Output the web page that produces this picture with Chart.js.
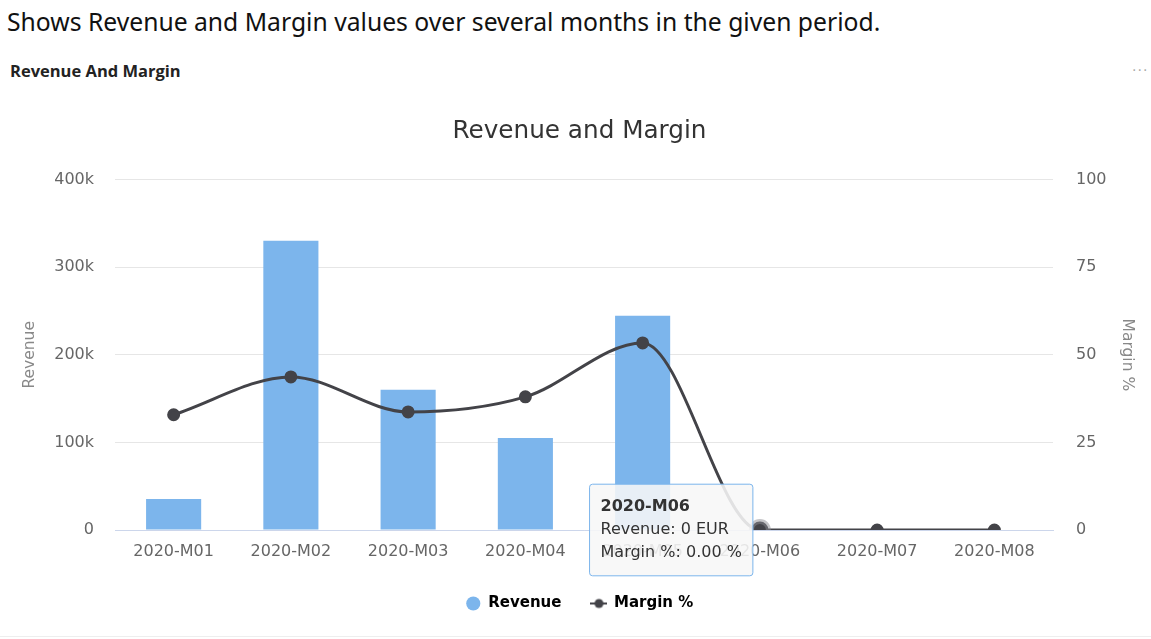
<!DOCTYPE html>
<html>
<head>
<meta charset="utf-8">
<title>Revenue and Margin</title>
<script src="https://cdn.jsdelivr.net/npm/chart.js@4"></script>
<style>
    body { margin: 0; background: #fff; width: 1151px; height: 639px; position: relative; overflow: hidden; }
    #descripcion { position: absolute; left: 7px; top: 5px; font-family: "Noto Sans", sans-serif; font-size: 24.7px; color: #111; white-space: nowrap; }
    #tituloPanel { position: absolute; left: 10px; top: 59px; font-family: "Open Sans", sans-serif; font-weight: bold; font-size: 16.5px; color: #222; }
    #menu { position: absolute; left: 1132px; top: 62px; font-family: "DejaVu Sans", sans-serif; font-size: 14px; color: #aaa; letter-spacing: 1px; }
    #chartContainer { position: absolute; left: 0; top: 95px; width: 1151px; height: 540px; }
    #linea { position: absolute; left: 0; top: 636px; width: 1151px; height: 1px; background: #eee; }
</style>
</head>
<body>
<div id="descripcion">Shows Revenue and Margin values over several months in the given period.</div>
<div id="tituloPanel">Revenue And Margin</div>
<div id="menu">···</div>
<div id="chartContainer"><canvas id="revenueChart"></canvas></div>
<div id="linea"></div>
<script>
const categorias = ['2020-M01', '2020-M02', '2020-M03', '2020-M04', '2020-M05', '2020-M06', '2020-M07', '2020-M08'];
const revenue = [35400, 330300, 160000, 105000, 244600, 0, 0, 0];
const margin = [32.9, 43.7, 33.7, 38.0, 53.4, 0, 0, 0];
const ticksRevenue = [0, 100000, 200000, 300000, 400000];
const ticksMargin = [0, 25, 50, 75, 100];

document.addEventListener('DOMContentLoaded', function() {
    const colorBarra = '#7cb5ec';
    const colorLinea = '#434348';
    const colorTexto = '#666666';
    const fuente = 'DejaVu Sans';

    // icono de leyenda: linea con punto
    function iconoLinea() {
        const c = document.createElement('canvas');
        c.width = 17;
        c.height = 12;
        const g = c.getContext('2d');
        g.strokeStyle = colorLinea;
        g.lineWidth = 2;
        g.beginPath();
        g.moveTo(0, 6);
        g.lineTo(17, 6);
        g.stroke();
        g.fillStyle = colorLinea;
        g.beginPath();
        g.arc(8.5, 6, 4.5, 0, Math.PI * 2);
        g.fill();
        return c;
    }

    Chart.Tooltip.positioners.enPunto = function(items) {
        if (!items.length) return false;
        const item = items.find(i => i.datasetIndex === 1) || items[0];
        return { x: item.element.x, y: item.element.y, xAlign: 'right', yAlign: 'center' };
    };

    const ctx = document.getElementById('revenueChart').getContext('2d');
    const chart = new Chart(ctx, {
        data: {
            labels: categorias,
            datasets: [
                {
                    type: 'bar',
                    label: 'Revenue',
                    data: revenue,
                    backgroundColor: colorBarra,
                    hoverBackgroundColor: colorBarra,
                    yAxisID: 'yRevenue',
                    categoryPercentage: 1,
                    barPercentage: 0.47,
                    order: 2
                },
                {
                    type: 'line',
                    label: 'Margin %',
                    data: margin,
                    borderColor: colorLinea,
                    backgroundColor: colorLinea,
                    borderWidth: 3,
                    pointRadius: 5,
                    pointHoverRadius: 8.5,
                    pointHoverBorderWidth: 5,
                    pointHoverBorderColor: 'rgba(140,140,145,0.5)',
                    pointHoverBackgroundColor: colorLinea,
                    cubicInterpolationMode: 'monotone',
                    yAxisID: 'yMargin',
                    order: 1
                }
            ]
        },
        options: {
            responsive: true,
            maintainAspectRatio: false,
            animation: false,
            events: [],
            layout: { padding: { left: 8, right: 0, top: 0, bottom: 14 } },
            plugins: {
                title: {
                    display: true,
                    text: 'Revenue and Margin',
                    color: '#333333',
                    font: { family: fuente, size: 24.7, weight: 'normal' },
                    padding: { top: 22, bottom: 33 }
                },
                legend: {
                    position: 'bottom',
                    labels: {
                        color: '#333333',
                        font: { family: fuente, size: 15, weight: 'bold' },
                        usePointStyle: true,
                        boxHeight: 10,
                        padding: 30,
                        generateLabels: function(chart) {
                            return [
                                { text: 'Revenue', pointStyle: 'circle', fillStyle: colorBarra, strokeStyle: colorBarra, lineWidth: 0, datasetIndex: 0 },
                                { text: 'Margin %', pointStyle: iconoLinea(), fillStyle: colorLinea, strokeStyle: colorLinea, lineWidth: 0, datasetIndex: 1 }
                            ];
                        }
                    }
                },
                tooltip: {
                    mode: 'index',
                    position: 'enPunto',
                    backgroundColor: 'rgba(247,247,247,0.88)',
                    borderColor: colorBarra,
                    borderWidth: 1,
                    cornerRadius: 3,
                    caretSize: 0,
                    caretPadding: 7,
                    padding: { left: 11, right: 11, top: 13, bottom: 13 },
                    displayColors: false,
                    titleColor: '#333333',
                    bodyColor: '#333333',
                    titleFont: { family: fuente, size: 16, weight: 'bold' },
                    bodyFont: { family: fuente, size: 16 },
                    titleMarginBottom: 4,
                    bodySpacing: 4,
                    callbacks: {
                        label: function(item) {
                            if (item.datasetIndex === 0) {
                                return 'Revenue: ' + item.raw + ' EUR';
                            }
                            return 'Margin %: ' + item.raw.toFixed(2) + ' %';
                        }
                    }
                }
            },
            scales: {
                x: {
                    afterFit: function(axis) {
                        axis.height = 36;
                    },
                    grid: { display: false, drawTicks: false },
                    border: { display: true, color: '#ccd6eb', width: 1 },
                    ticks: {
                        color: colorTexto,
                        font: { family: fuente, size: 16 },
                        padding: 12,
                        maxRotation: 0
                    }
                },
                yRevenue: {
                    position: 'left',
                    min: 0,
                    max: 400000,
                    afterBuildTicks: function(axis) {
                        axis.ticks = ticksRevenue.map(v => ({ value: v }));
                    },
                    afterFit: function(axis) {
                        axis.width = 107;
                    },
                    grid: { color: '#e6e6e6', drawTicks: false },
                    border: { display: false },
                    ticks: {
                        color: colorTexto,
                        font: { family: fuente, size: 16 },
                        padding: 21,
                        callback: function(v) {
                            return v === 0 ? '0' : (v / 1000) + 'k';
                        }
                    },
                    title: {
                        display: true,
                        text: 'Revenue',
                        color: '#888888',
                        font: { family: fuente, size: 15.5 },
                        padding: { top: 13, bottom: 0 }
                    }
                },
                yMargin: {
                    position: 'right',
                    min: 0,
                    max: 100,
                    afterBuildTicks: function(axis) {
                        axis.ticks = ticksMargin.map(v => ({ value: v }));
                    },
                    afterFit: function(axis) {
                        axis.width = 98;
                    },
                    grid: { display: false, drawTicks: false },
                    border: { display: false },
                    ticks: {
                        color: colorTexto,
                        font: { family: fuente, size: 16 },
                        padding: 23
                    },
                    title: {
                        display: true,
                        text: 'Margin %',
                        color: '#888888',
                        font: { family: fuente, size: 15.5 },
                        padding: { top: 15, bottom: 0 }
                    }
                }
            }
        }
    });

    const activos = [
        { datasetIndex: 0, index: 5 },
        { datasetIndex: 1, index: 5 }
    ];
    chart.setActiveElements(activos);
    chart.tooltip.setActiveElements(activos, { x: 0, y: 0 });
    chart.update();
});
</script>
</body>
</html>
